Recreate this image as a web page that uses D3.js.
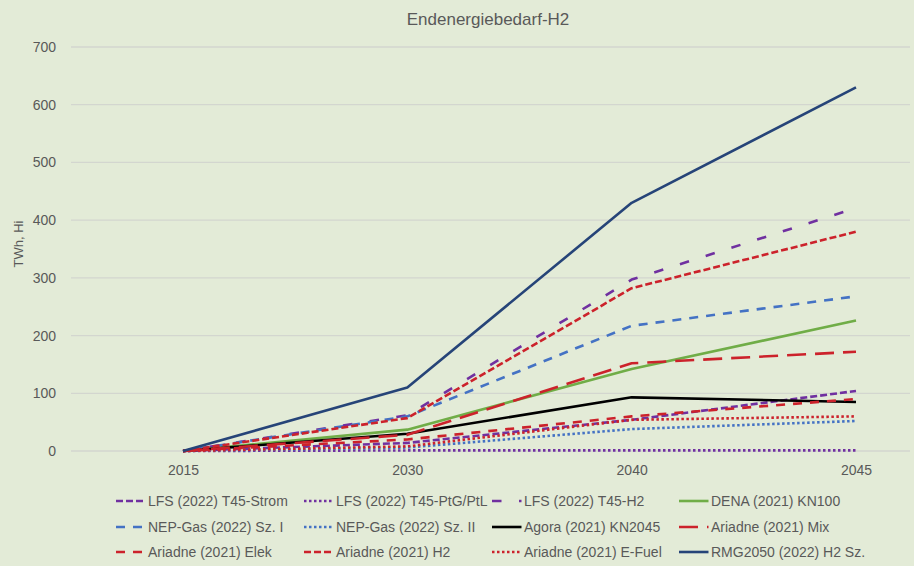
<!DOCTYPE html>
<html>
<head>
<meta charset="utf-8">
<script src="https://cdn.jsdelivr.net/npm/d3@7"></script>
<style>
  body { margin: 0; }
  text { font-family: "Liberation Sans", Arial, sans-serif; fill: #595959; }
</style>
</head>
<body>
<script>
// data
let years = ["2015", "2030", "2040", "2045"];
let seriesNames = [
  "LFS (2022) T45-Strom", "LFS (2022) T45-PtG/PtL", "LFS (2022) T45-H2", "DENA (2021) KN100",
  "NEP-Gas (2022) Sz. I", "NEP-Gas (2022) Sz. II", "Agora (2021) KN2045", "Ariadne (2021) Mix",
  "Ariadne (2021) Elek", "Ariadne (2021) H2", "Ariadne (2021) E-Fuel", "RMG2050 (2022) H2 Sz."
];
let lfsStrom   = [0, 14, 54, 104];
let lfsPtg     = [0, 1, 1, 1];
let lfsH2      = [0, 62, 297, 421];
let denaKn100  = [0, 37, 142, 226];
let nepSz1     = [0, 60, 217, 268];
let nepSz2     = [0, 6, 38, 52];
let agora      = [0, 30, 93, 85];
let ariMix     = [0, 28, 152, 172];
let ariElek    = [0, 20, 60, 90];
let ariH2      = [0, 57, 282, 380];
let ariEfuel   = [0, 8, 54, 60];
let rmg        = [0, 110, 430, 630];
let yTicks = [0, 100, 200, 300, 400, 500, 600, 700];

let values = [lfsStrom, lfsPtg, lfsH2, denaKn100, nepSz1, nepSz2, agora, ariMix, ariElek, ariH2, ariEfuel, rmg];

// line styles
let purple = "#7030a0", red = "#cc222b", blue = "#4472c4";
let styles = [
  {c: purple, d: "7,3"},
  {c: purple, d: "2.5,2.5"},
  {c: purple, d: "9.5,17.5"},
  {c: "#70ad47", d: null},
  {c: blue, d: "9,8"},
  {c: blue, d: "2.5,2.5"},
  {c: "#000000", d: null},
  {c: red, d: "19,9"},
  {c: red, d: "9,8"},
  {c: red, d: "7,3"},
  {c: red, d: "2.5,2.5"},
  {c: "#264478", d: null}
];

let W = 914, H = 566;
let svg = d3.select("body").append("svg")
    .attr("width", W)
    .attr("height", H);

svg.append("rect")
    .attr("width", W).attr("height", H)
    .attr("fill", "#e3ebd7");

// scales
let x = d3.scalePoint().domain(years).range([183, 856]);
let y = d3.scaleLinear().domain([0, 700]).range([451, 47]);

// gridlines
svg.selectAll(".grid")
    .data(yTicks)
    .enter().append("line")
    .attr("x1", 71).attr("x2", 910)
    .attr("y1", d => y(d)).attr("y2", d => y(d))
    .attr("stroke", "#d3d6cf")
    .attr("stroke-width", 1.3);

// y axis
let yAxis = svg.append("g")
    .attr("transform", "translate(71,0)")
    .call(d3.axisLeft(y).tickValues(yTicks).tickSize(0).tickPadding(15));
yAxis.select(".domain").remove();
yAxis.selectAll("text").attr("font-size", 14).attr("fill", "#595959")
    .style("font-family", "Liberation Sans, Arial, sans-serif");

// x axis
let xAxis = svg.append("g")
    .attr("transform", "translate(0,451)")
    .call(d3.axisBottom(x).tickSize(0).tickPadding(14));
xAxis.select(".domain").remove();
xAxis.selectAll("text").attr("font-size", 14).attr("fill", "#595959")
    .style("font-family", "Liberation Sans, Arial, sans-serif");

// lines
let line = d3.line()
    .x((d, i) => x(years[i]))
    .y(d => y(d));

values.forEach(function(v, i) {
  svg.append("path")
     .datum(v)
     .attr("d", line)
     .attr("fill", "none")
     .attr("stroke", styles[i].c)
     .attr("stroke-width", 2.6)
     .attr("stroke-linejoin", "round")
     .attr("stroke-dasharray", styles[i].d);
});

// title
svg.append("text")
    .attr("x", 488).attr("y", 25)
    .attr("text-anchor", "middle")
    .attr("font-size", 17)
    .text("Endenergiebedarf-H2");

// y label
svg.append("text")
    .attr("transform", "translate(23,244) rotate(-90)")
    .attr("text-anchor", "middle")
    .attr("font-size", 13)
    .text("TWh, Hi");

// legend
let colX = [116, 304, 492, 679], rowY = [501, 527, 552];
let legend = svg.selectAll(".legend")
    .data(seriesNames)
    .enter().append("g")
    .attr("transform", (d, i) => "translate(" + colX[i % 4] + "," + rowY[Math.floor(i / 4)] + ")");

legend.append("line")
    .attr("x1", 0).attr("x2", 29.5)
    .attr("stroke", (d, i) => styles[i].c)
    .attr("stroke-width", 2.6)
    .attr("stroke-dasharray", (d, i) => styles[i].d);

legend.append("text")
    .attr("x", 32).attr("dy", "0.35em")
    .attr("font-size", 14)
    .text(d => d);
</script>
</body>
</html>
